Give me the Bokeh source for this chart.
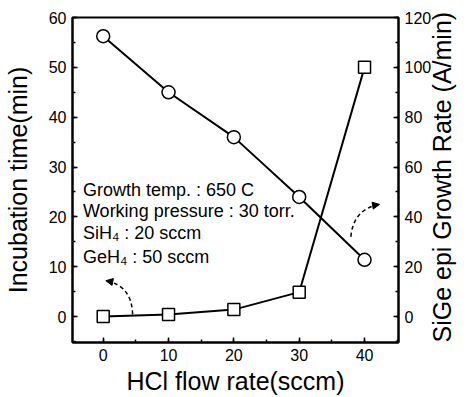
import math
from bokeh.plotting import figure
from bokeh.models import Range1d, LinearAxis, SingleIntervalTicker, Arrow, NormalHead
from bokeh.core.properties import value
from bokeh.embed import file_html
from bokeh.resources import INLINE

# ---- data ----
hcl_flow = [0, 10, 20, 30, 40]
growth_rate = [112.5, 90, 72, 48, 22.8]      # right axis (A/min), circles
incubation_time = [0, 0.4, 1.4, 4.9, 50]     # left axis (min), squares

x_ticks_interval = 10
left_ticks_interval = 10
right_ticks_interval = 20

x_title = "HCl flow rate(sccm)"
left_title = "Incubation time(min)"
right_title = "SiGe epi Growth Rate (A/min)"

note_lines = ["Growth temp. : 650 C", "Working pressure : 30 torr.",
              "SiH\u2084 : 20 sccm", "GeH\u2084 : 50 sccm"]
note_x = [-3.1, -3.1, -3.1, -3.1]
note_y = [25.4, 21.1, 16.8, 12.0]

# dashed arrows (annotation) in left-axis coordinates
arr_sq = dict(x0=4.5, y0=0.4, cx=4.4, cy=6.2, x1=0.4, y1=7.2)
arr_ci = dict(x0=37.9, y0=16.0, cx=38.3, cy=21.6, x1=42.3, y1=22.5)

FONT = "Liberation Sans"

p = figure(width=473, height=397,
           x_range=Range1d(-4.7, 45.2), y_range=Range1d(-5.2, 60),
           output_backend="svg", toolbar_location=None,
           min_border_left=71, min_border_right=72,
           min_border_top=17, min_border_bottom=54)
p.extra_y_ranges = {"right": Range1d(-10.4, 120)}

p.xgrid.visible = False
p.ygrid.visible = False
p.outline_line_color = "black"
p.outline_line_width = 2
p.outline_line_alpha = 1

right_axis = LinearAxis(y_range_name="right")
p.add_layout(right_axis, "right")

p.xaxis.ticker = SingleIntervalTicker(interval=x_ticks_interval, num_minor_ticks=2)
p.yaxis[0].ticker = SingleIntervalTicker(interval=left_ticks_interval, num_minor_ticks=2)
right_axis.ticker = SingleIntervalTicker(interval=right_ticks_interval, num_minor_ticks=2)

for ax in [p.xaxis[0], p.yaxis[0], right_axis]:
    ax.axis_line_width = 2
    ax.axis_line_color = "black"
    ax.major_tick_in = 5
    ax.major_tick_out = 0
    ax.minor_tick_in = 3
    ax.minor_tick_out = 0
    ax.major_tick_line_width = 1.5
    ax.minor_tick_line_width = 1.5
    ax.major_label_text_font = FONT
    ax.major_label_text_font_size = "16px"
    ax.major_label_text_color = "black"
    ax.axis_label_text_font = FONT
    ax.axis_label_text_font_size = "25px"
    ax.axis_label_text_font_style = "normal"
    ax.axis_label_text_color = "black"

p.xaxis.axis_label = x_title
p.yaxis[0].axis_label = left_title
p.xaxis.major_label_standoff = 6
p.xaxis.axis_label_standoff = 3
p.yaxis[0].major_label_standoff = 6
p.yaxis[0].axis_label_standoff = 14
right_axis.major_label_standoff = 6

# right-axis title, reading bottom-to-top as in the reference
right_axis.axis_label = right_title
right_axis.axis_label_orientation = math.pi / 2
right_axis.axis_label_align = "start"
right_axis.axis_label_standoff = 8

# growth rate (circles, right axis)
p.line(hcl_flow, growth_rate, y_range_name="right", line_color="black", line_width=2)
p.scatter(hcl_flow, growth_rate, y_range_name="right", marker="circle", size=13,
          fill_color="white", line_color="black", line_width=1.5)

# incubation time (squares, left axis)
p.line(hcl_flow, incubation_time, line_color="black", line_width=2)
p.scatter(hcl_flow, incubation_time, marker="square", size=12,
          fill_color="white", line_color="black", line_width=1.5)

# notes
p.text(x=note_x, y=note_y, text=note_lines, text_font=value(FONT),
       text_font_size="18px", text_baseline="middle", text_color="black")

# dashed curved arrows
for a in (arr_sq, arr_ci):
    p.quadratic(x0=[a["x0"]], y0=[a["y0"]], x1=[a["x1"]], y1=[a["y1"]],
                cx=[a["cx"]], cy=[a["cy"]], line_color="black",
                line_width=1.5, line_dash="4 3")
    dx = a["x1"] - a["cx"]
    dy = a["y1"] - a["cy"]
    p.add_layout(Arrow(end=NormalHead(size=7, fill_color="black", line_color="black"),
                       x_start=a["x1"] - 0.15 * dx, y_start=a["y1"] - 0.15 * dy,
                       x_end=a["x1"], y_end=a["y1"],
                       line_color="black", line_width=1.5))

open("out.html", "w").write(file_html(p, INLINE))
